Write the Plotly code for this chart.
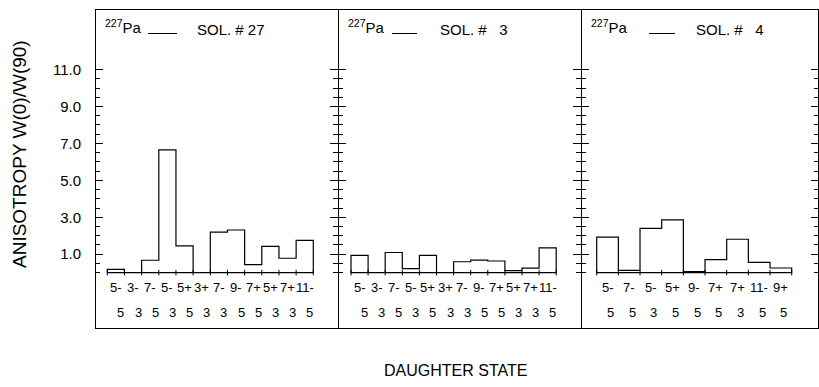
import plotly.graph_objects as go

# ---------------- data ----------------
isotope = "<sup>227</sup>Pa"
panel_titles = ["SOL. # 27", "SOL. #\u00a0\u00a0 3", "SOL. #\u00a0\u00a0 4"]

left_top = ["5-", "3-", "7-", "5-", "5+", "3+", "7-", "9-", "7+", "5+", "7+", "11-"]
left_bot = ["5", "3", "5", "3", "5", "3", "3", "5", "5", "3", "3", "5"]
left_vals = [0.18, 0.0, 0.67, 6.65, 1.45, 0.0, 2.20, 2.31, 0.43, 1.42, 0.78, 1.75]

mid_top = ["5-", "3-", "7-", "5-", "5+", "3+", "7-", "9-", "7+", "5+", "7+", "11-"]
mid_bot = ["5", "3", "5", "3", "5", "3", "3", "5", "5", "3", "3", "5"]
mid_vals = [0.94, 0.0, 1.09, 0.22, 0.94, 0.0, 0.59, 0.68, 0.63, 0.11, 0.24, 1.34]

right_top = ["5-", "7-", "5-", "5+", "9-", "7+", "7+", "11-", "9+"]
right_bot = ["5", "5", "3", "5", "5", "5", "3", "5", "5"]
right_vals = [1.92, 0.12, 2.40, 2.86, 0.06, 0.70, 1.81, 0.56, 0.25]

y_major = [1, 3, 5, 7, 9, 11]
y_major_text = ["1.0", "3.0", "5.0", "7.0", "9.0", "11.0"]
y_minor = [0, 0.5, 1.5, 2, 2.5, 3.5, 4, 4.5, 5.5, 6, 6.5, 7.5, 8, 8.5, 9.5, 10, 10.5]

y_title = "ANISOTROPY W(0)/W(90)"
x_title = "DAUGHTER STATE"

# ---------------- layout geometry ----------------
W, H = 819, 387
L, R, T, B = 96, 1, 10, 59
PW = W - L - R
PH = H - T - B


def px_x(p):
    return (p - L) / PW


def px_y(p):
    return (H - B - p) / PH


domains = [[0, px_x(339)], [px_x(339), px_x(582)], [px_x(582), 1]]
xranges = [[-1.158, 12.997], [-1.202, 13.009], [-1.178, 9.714]]
yrange = [-3.0, 14.23]
label_shift = [5, 5, 3]

FONT = "Liberation Sans, Arial, Helvetica, sans-serif"

panels = [
    (left_vals, left_top, left_bot),
    (mid_vals, mid_top, mid_bot),
    (right_vals, right_top, right_bot),
]

fig = go.Figure()
annotations = []
shapes = []


def step_xy(vals):
    n = len(vals)
    edges = [i - 0.5 for i in range(n + 1)]
    xs = [edges[0]] + edges[:n] + [edges[n], edges[0]]
    ys = [0] + list(vals) + [0, 0]
    return xs, ys, edges


for k, (vals, top, bot) in enumerate(panels):
    xa = "x" if k == 0 else f"x{k+1}"
    ya = "y" if k == 0 else f"y{k+1}"
    xs, ys, edges = step_xy(vals)
    fig.add_trace(go.Scatter(x=xs, y=ys, mode="lines", line=dict(color="black", width=1.2, shape="hv"),
                             xaxis=xa, yaxis=ya, hoverinfo="skip", showlegend=False))
    fig.add_trace(go.Scatter(x=edges, y=[0] * len(edges), mode="markers",
                             marker=dict(symbol="line-ns", size=4, line=dict(color="black", width=1)),
                             xaxis=xa, yaxis=ya, hoverinfo="skip", showlegend=False))
    for i, (t, b) in enumerate(zip(top, bot)):
        annotations.append(dict(x=i, y=-0.78, xref=xa, yref=ya, text=t, showarrow=False,
                                xanchor="center", yanchor="middle",
                                font=dict(size=13, color="black", family=FONT)))
        annotations.append(dict(x=i, y=-2.15, xref=xa, yref=ya, text=b, showarrow=False, xshift=label_shift[k],
                                xanchor="center", yanchor="middle",
                                font=dict(size=13, color="black", family=FONT)))

# overlay axes for crossing ticks on middle and right panel left axes
for k in (1, 2):
    fig.add_trace(go.Scatter(x=[None], y=[None], xaxis=f"x{k+1}", yaxis=f"y{k+3}",
                             hoverinfo="skip", showlegend=False))

layout = dict(
    width=W, height=H, autosize=False,
    margin=dict(l=L, r=R, t=T, b=B),
    paper_bgcolor="white", plot_bgcolor="white",
    font=dict(family=FONT, color="black"),
    showlegend=False,
)

for k in range(3):
    xname = "xaxis" if k == 0 else f"xaxis{k+1}"
    yname = "yaxis" if k == 0 else f"yaxis{k+1}"
    xa_anchor = "y" if k == 0 else f"y{k+1}"
    ya_anchor = "x" if k == 0 else f"x{k+1}"
    layout[xname] = dict(domain=domains[k], range=xranges[k], anchor=xa_anchor,
                         showline=True, mirror=True, linecolor="black", linewidth=1,
                         showticklabels=False, ticks="", showgrid=False, zeroline=False, fixedrange=True)
    ydict = dict(range=yrange, anchor=ya_anchor, domain=[0, 1],
                 showline=True, linecolor="black", linewidth=1,
                 tickmode="array", tickvals=y_major, ticktext=y_major_text,
                 ticks="inside", ticklen=7, tickwidth=1, tickcolor="black",
                 minor=dict(tickmode="array", tickvals=y_minor, ticks="inside", ticklen=4,
                            tickwidth=1, tickcolor="black"),
                 showgrid=False, zeroline=False, fixedrange=True,
                 showticklabels=(k == 0),
                 tickfont=dict(size=15, color="black", family=FONT))
    if k == 0:
        ydict["ticklabelstandoff"] = 11
    if k == 2:
        ydict["mirror"] = "ticks"
    layout[yname] = ydict

for k in (1, 2):
    layout[f"yaxis{k+3}"] = dict(range=yrange, overlaying=f"y{k+1}", anchor=f"x{k+1}", side="left",
                                 showline=False, tickmode="array", tickvals=y_major,
                                 ticks="outside", ticklen=8, tickwidth=1, tickcolor="black",
                                 minor=dict(tickmode="array", tickvals=y_minor, ticks="outside", ticklen=5,
                                            tickwidth=1, tickcolor="black"),
                                 showticklabels=False, showgrid=False, zeroline=False, fixedrange=True)

# panel headings
iso_x = [103, 346, 589]
sol_x = [195, 438, 694]
dash_x = [(148, 177), (392, 417), (649, 675)]
for k in range(3):
    annotations.append(dict(x=px_x(iso_x[k]), y=px_y(27), xref="paper", yref="paper", text=isotope,
                            showarrow=False, xanchor="left", yanchor="middle",
                            font=dict(size=15, color="black", family=FONT)))
    annotations.append(dict(x=px_x(sol_x[k]), y=px_y(30), xref="paper", yref="paper", text=panel_titles[k],
                            showarrow=False, xanchor="left", yanchor="middle",
                            font=dict(size=15, color="black", family=FONT)))
    shapes.append(dict(type="line", xref="paper", yref="paper",
                       x0=px_x(dash_x[k][0]), x1=px_x(dash_x[k][1]), y0=px_y(33.5), y1=px_y(33.5),
                       line=dict(color="black", width=1)))

annotations.append(dict(x=px_x(19), y=px_y(154), xref="paper", yref="paper", text=y_title, textangle=-90,
                        showarrow=False, xanchor="center", yanchor="middle",
                        font=dict(size=19, color="black", family=FONT)))
annotations.append(dict(x=px_x(455), y=px_y(370), xref="paper", yref="paper", text=x_title,
                        showarrow=False, xanchor="center", yanchor="middle",
                        font=dict(size=16, color="black", family=FONT)))

layout["annotations"] = annotations
layout["shapes"] = shapes
fig.update_layout(**layout)

fig.write_html("out.html", config={"responsive": False, "displayModeBar": False},
               post_script="document.body.style.margin='0px';document.body.style.overflow='hidden';")
